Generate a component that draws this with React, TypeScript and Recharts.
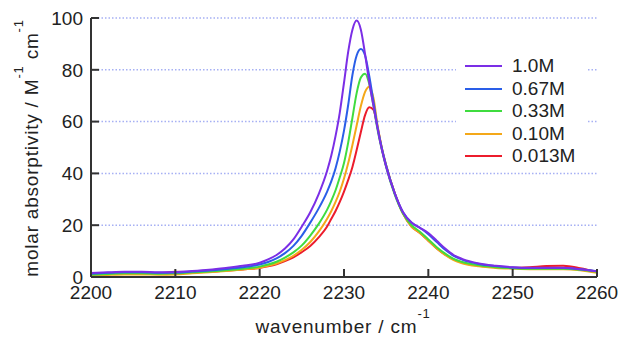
import React from 'react';
import { LineChart, Line, XAxis, YAxis, CartesianGrid } from 'recharts';

// wavenumber grid (cm^-1), denser around the band maximum
const wavenumbers = [
  2200, 2202, 2204, 2206, 2208, 2210, 2212, 2214, 2216, 2218,
  2220, 2221, 2222, 2223, 2224, 2225, 2226, 2227, 2228, 2228.5,
  2229, 2229.5, 2230, 2230.5, 2231, 2231.5, 2232, 2232.5, 2233, 2233.5,
  2234, 2234.5, 2235, 2236, 2237, 2238, 2239, 2240, 2241, 2242,
  2243, 2244, 2246, 2248, 2250, 2252, 2254, 2256, 2258, 2260,
];

// molar absorptivity
const conc1_0 = [
  1.5, 1.8, 2.0, 2.0, 1.8, 1.9, 2.3, 2.8, 3.5, 4.3,
  5.5, 6.8, 8.5, 11, 14.5, 19.5, 25, 32, 41, 47,
  54.5, 63.5, 75, 87, 95.5, 99, 95.5, 86, 75, 66,
  57, 49, 42.5, 32.5, 25, 21, 19, 17, 14, 11,
  8.5, 7, 5.2, 4.3, 3.8, 3.6, 3.6, 3.6, 3.0, 2.2,
];
const conc0_67 = [
  1.3, 1.6, 1.8, 1.8, 1.6, 1.7, 2.1, 2.5, 3.1, 3.8,
  4.8, 5.8, 7.2, 9.2, 12, 16, 21, 26.5, 33, 37,
  42, 48.5, 56.5, 66.5, 78, 85.5, 88, 85.5, 77.5, 67.5,
  57.5, 49.5, 43, 32.5, 25, 21, 19, 16.5, 13.5, 10.5,
  8.2, 6.7, 5.0, 4.2, 3.7, 3.5, 3.5, 3.5, 3.0, 2.2,
];
const conc0_33 = [
  0.9, 1.2, 1.4, 1.4, 1.3, 1.4, 1.8, 2.1, 2.6, 3.2,
  4.0, 4.8, 5.9, 7.5, 9.5, 12.2, 16, 20.5, 26, 29.5,
  33.5, 38.5, 44, 52, 61.5, 71, 77, 78.5, 74.5, 66,
  56.5, 49, 42.5, 32, 24.5, 20, 17.5, 14.5, 11.5, 9,
  7, 5.8, 4.5, 3.8, 3.4, 3.2, 3.2, 3.2, 2.8, 2.0,
];
const conc0_10 = [
  0.5, 0.8, 1.0, 1.0, 0.9, 1.0, 1.4, 1.8, 2.3, 2.9,
  3.6, 4.3, 5.2, 6.5, 8.2, 10.5, 13.5, 17.5, 22.5, 25.5,
  29, 33, 38, 44, 51, 58.5, 66, 71.5, 73.5, 69,
  58, 49.5, 43, 32.5, 24.5, 19.5, 17, 14, 11, 8.5,
  6.5, 5.3, 4.1, 3.5, 3.2, 3.0, 3.0, 3.0, 2.6, 1.6,
];
const conc0_013 = [
  1.0, 1.3, 1.5, 1.6, 1.5, 2.0, 1.8, 2.0, 2.4, 2.9,
  3.5, 4.1, 4.9, 6.1, 7.6, 9.6, 12, 15.3, 19.5, 22.5,
  25.5, 29, 33, 37.5, 42.5, 49, 56, 62.5, 65.5, 64.5,
  57.5, 49.5, 43, 32.5, 24.5, 19.5, 17, 14, 11, 8.6,
  6.8, 5.6, 4.3, 3.8, 3.6, 3.8, 4.2, 4.3, 3.4, 2.0,
];

const xTicks = [2200, 2210, 2220, 2230, 2240, 2250, 2260];
const yTicks = [0, 20, 40, 60, 80, 100];

const seriesInfo = [
  { key: 'c1', name: '1.0M', color: '#7b2ee6', values: conc1_0 },
  { key: 'c2', name: '0.67M', color: '#2a5ee8', values: conc0_67 },
  { key: 'c3', name: '0.33M', color: '#3fdc3f', values: conc0_33 },
  { key: 'c4', name: '0.10M', color: '#f4a819', values: conc0_10 },
  { key: 'c5', name: '0.013M', color: '#ec1c2c', values: conc0_013 },
];

const data = wavenumbers.map((w, i) => {
  const row: Record<string, number> = { w };
  seriesInfo.forEach(s => { row[s.key] = s.values[i]; });
  return row;
});

const FONT = '"Liberation Sans", Arial, sans-serif';
const INK = '#333';

export default function App() {
  const tickStyle = { fontSize: 19, fill: '#222', fontFamily: FONT };
  // draw red first so that purple ends up on top
  const drawOrder = [...seriesInfo].reverse();

  return (
    <div style={{ position: 'absolute', left: 0, top: 0, width: 621, height: 338, background: '#fff' }}>
      <LineChart
        width={621}
        height={338}
        data={data}
        margin={{ top: 18, right: 24, bottom: 0, left: 0 }}
      >
        <CartesianGrid vertical={false} stroke="#a6b0f4" strokeDasharray="1.5 2" strokeWidth={1.5} yAxisId="left" xAxisId="bottom" />
        <XAxis
          xAxisId="bottom"
          dataKey="w"
          type="number"
          domain={[2200, 2260]}
          ticks={xTicks}
          height={61}
          tickSize={-8}
          tickMargin={17}
          tick={tickStyle}
          axisLine={{ stroke: INK, strokeWidth: 2 }}
          tickLine={{ stroke: INK, strokeWidth: 2 }}
          interval={0}
        />
        <XAxis
          xAxisId="top"
          orientation="top"
          dataKey="w"
          type="number"
          domain={[2200, 2260]}
          ticks={xTicks}
          height={0}
          tickSize={-8}
          tickFormatter={() => ''}
          axisLine={{ stroke: INK, strokeWidth: 2 }}
          tickLine={{ stroke: INK, strokeWidth: 2 }}
          interval={0}
        />
        <YAxis
          yAxisId="left"
          type="number"
          domain={[0, 100]}
          ticks={yTicks}
          width={91}
          tickSize={-8}
          tickMargin={16}
          tick={tickStyle}
          axisLine={{ stroke: INK, strokeWidth: 2 }}
          tickLine={{ stroke: INK, strokeWidth: 2 }}
          interval={0}
        />
        <YAxis
          yAxisId="right"
          orientation="right"
          type="number"
          domain={[0, 100]}
          ticks={yTicks}
          width={0}
          tickSize={-8}
          tickFormatter={() => ''}
          axisLine={{ stroke: INK, strokeWidth: 2 }}
          tickLine={{ stroke: INK, strokeWidth: 2 }}
          interval={0}
        />
        {drawOrder.map(s => (
          <Line
            key={s.key}
            xAxisId="bottom"
            yAxisId="left"
            type="monotone"
            dataKey={s.key}
            name={s.name}
            stroke={s.color}
            strokeWidth={2}
            dot={false}
            isAnimationActive={false}
          />
        ))}
      </LineChart>

      {/* legend box, covers the grid behind it */}
      <div
        style={{
          position: 'absolute', left: 456, top: 52, width: 132, height: 116,
          background: '#fff', fontFamily: FONT, fontSize: 19, color: '#222',
        }}
      >
        {seriesInfo.map((s, i) => (
          <div key={s.key} style={{ position: 'absolute', left: 9, top: 3 + i * 22.5, height: 22, display: 'flex', alignItems: 'center' }}>
            <span style={{ display: 'inline-block', width: 37, height: 2, background: s.color, marginRight: 10 }} />
            <span style={{ lineHeight: '22px' }}>{s.name}</span>
          </div>
        ))}
      </div>

      {/* axis titles */}
      <svg width={621} height={338} style={{ position: 'absolute', left: 0, top: 0, pointerEvents: 'none' }}>
        <text x={343} y={333} textAnchor="middle" fontFamily={FONT} fontSize={19} fill="#222" letterSpacing={0.8}>
          wavenumber / cm
          <tspan dy={-15} fontSize={13}>-1</tspan>
        </text>
        <text
          x={38}
          y={148}
          textAnchor="middle"
          transform="rotate(-90, 38, 148)"
          fontFamily={FONT}
          fontSize={19}
          fill="#222"
          letterSpacing={0.8}
        >
          molar absorptivity / M
          <tspan dy={-15} fontSize={13}>-1</tspan>
          <tspan dy={15}> cm</tspan>
          <tspan dy={-15} fontSize={13}>-1</tspan>
        </text>
      </svg>
    </div>
  );
}
